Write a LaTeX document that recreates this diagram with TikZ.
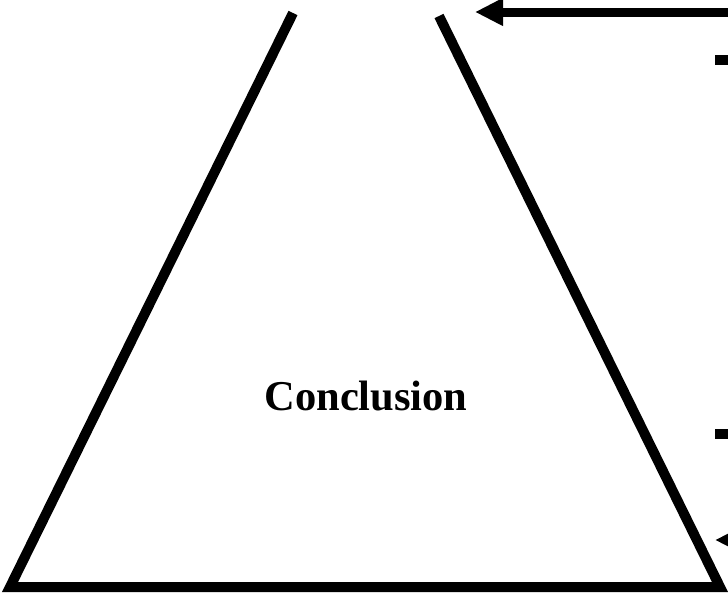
\documentclass[tikz,border=0pt]{standalone}
\usepackage{fontspec}
\setmainfont{Liberation Serif}
\usetikzlibrary{arrows.meta}

\begin{document}
\begin{tikzpicture}[
    x=1pt, y=-1pt,
    >={Triangle[length=28pt,width=26pt]},
    side/.style={line width=10pt, line join=miter},
    pointer/.style={->, line width=9pt},
    stub/.style={line width=10pt},
    title/.style={font=\bfseries\fontsize{42.5}{50}\selectfont, anchor=base}
]
\useasboundingbox (0,0) rectangle (728,595);
\clip (0,0) rectangle (728,595);

% the open-topped triangle
\coordinate (apexL) at (293,13);
\coordinate (apexR) at (439,16);
\coordinate (baseL) at (10,587);
\coordinate (baseR) at (720,587);
\draw[side] (apexL) -- (baseL) -- (baseR) -- (apexR);

\node[title] (concl) at (366,410) {Conclusion};

% incoming arrows and stubs from the right
\coordinate (inTop) at (745,12);
\coordinate (tipTop) at (475,12);
\draw[pointer] (inTop) -- (tipTop);

\coordinate (stubA) at (715,60);
\coordinate (stubAend) at (745,60);
\draw[stub] (stubA) -- (stubAend);

\coordinate (stubB) at (715,434);
\coordinate (stubBend) at (745,434);
\draw[stub] (stubB) -- (stubBend);

\coordinate (inLow) at (770,540);
\coordinate (tipLow) at (715,540);
\draw[pointer] (inLow) -- (tipLow);
\end{tikzpicture}
\end{document}
